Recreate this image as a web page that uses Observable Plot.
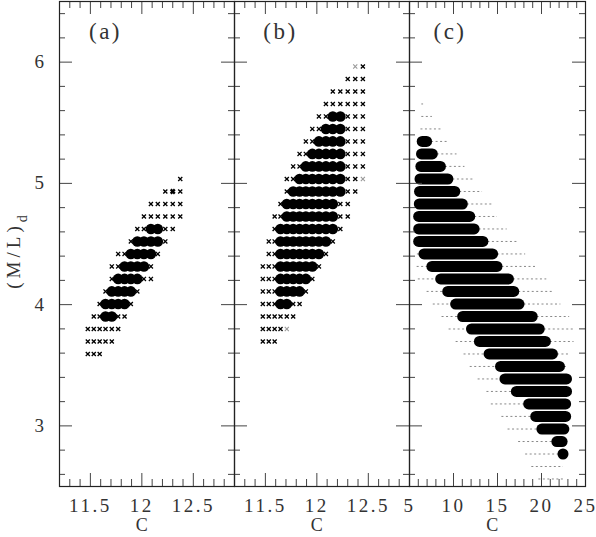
<!DOCTYPE html>
<html><head><meta charset="utf-8">
<script src="https://cdn.jsdelivr.net/npm/d3@7"></script>
<script src="https://cdn.jsdelivr.net/npm/@observablehq/plot@0.6"></script>
<style>
body{margin:0;background:#fff}
#chart{position:relative;width:596px;height:537px;background:#fff}
#chart svg{position:absolute;left:0;top:0;background:none !important;overflow:visible}
#chart svg text{font-family:"Liberation Serif",serif;fill:#333;letter-spacing:2.5px}
</style></head><body><div id="chart"></div>
<script>
// grid columns of C shared by panels (a) and (b)
const colsAB = [11.475, 11.533, 11.590, 11.647, 11.708, 11.770, 11.832, 11.893, 11.956, 12.020, 12.088, 12.155, 12.228, 12.300, 12.373, 12.447];
// rows: [(M/L)_d, marker per column]  x = cross, X = heavy cross, y = light cross, o = filled disc, . = none
const rowsA = [
  [3.593, "xxx"],
  [3.696, "xxxxx"],
  [3.799, "xxxxxx"],
  [3.902, ".xxooxx"],
  [4.005, "..xoooox"],
  [4.109, "...xoooox"],
  [4.212, "....xooooxx"],
  [4.315, "....xxoooox"],
  [4.418, ".....xxoooox"],
  [4.521, ".......xoooox"],
  [4.624, "........xxooxx"],
  [4.727, ".........xxxxxx"],
  [4.830, "..........xxxxx"],
  [4.933, "............xXx"],
  [5.036, "..............x"]
];
const rowsB = [
  [3.696, "xxx"],
  [3.799, "xxxxy"],
  [3.902, "xxxxxx"],
  [4.005, "xxxooxx"],
  [4.109, "xxxoooox"],
  [4.212, "xxxooooox"],
  [4.315, "xxxoooooox"],
  [4.418, ".xxooooooox"],
  [4.521, ".xxoooooooox"],
  [4.624, "..xooooooooox"],
  [4.727, "..xxooooooooxx"],
  [4.830, "...xooooooooxx"],
  [4.933, "....xooooooooxx"],
  [5.036, "....xxoooooooxxy"],
  [5.140, ".....xxooooooxxx"],
  [5.243, "......xxoooooxxx"],
  [5.346, ".......xxooooxxx"],
  [5.449, "........xxoooxxx"],
  [5.552, ".........xxooxxx"],
  [5.655, "..........xxxxxx"],
  [5.758, "...........xxxxx"],
  [5.861, ".............xxx"],
  [5.964, "..............yx"]
];
// panel (c): [(M/L)_d, faint from, solid from, solid to, faint to]
const rowsC = [
  [5.655, 6.4, null, null, 6.6],
  [5.552, 6.4, null, null, 7.6],
  [5.449, 6.3, null, null, 8.6],
  [5.346, null, 6.5, 7.0, 9.3],
  [5.243, null, 6.42, 7.65, 10.4],
  [5.140, null, 6.35, 8.57, 11.3],
  [5.036, null, 6.25, 9.42, 12.3],
  [4.933, null, 6.2, 10.2, 13.3],
  [4.830, null, 6.17, 11.06, 14.4],
  [4.727, null, 6.1, 11.9, 15.0],
  [4.624, null, 6.1, 12.4, 16.1],
  [4.521, null, 6.1, 13.4, 17.4],
  [4.418, 5.9, 6.7, 14.5, 18.2],
  [4.315, 5.87, 7.6, 15.0, 19.5],
  [4.212, 6.0, 8.6, 16.3, 20.6],
  [4.109, 7.0, 9.4, 16.9, 21.4],
  [4.005, 7.7, 10.3, 17.5, 22.2],
  [3.902, 8.7, 11.1, 19.0, 23.2],
  [3.799, 9.5, 12.1, 19.8, 23.7],
  [3.696, 10.3, 13.0, 20.5, 23.7],
  [3.593, 11.2, 14.1, 21.3, 23.1],
  [3.490, 11.9, 15.4, 22.1, 23.0],
  [3.387, 12.8, 15.9, 22.9, null],
  [3.284, 13.8, 17.2, 22.9, null],
  [3.181, 14.3, 18.6, 22.8, null],
  [3.078, 15.5, 19.4, 22.8, null],
  [2.974, 16.2, 20.1, 22.6, null],
  [2.871, 17.4, 21.8, 22.4, null],
  [2.768, 18.2, 22.5, 22.5, null],
  [2.665, 18.9, null, null, 22.5],
  [2.562, 19.7, null, null, 22.5]
];
const yMajor = [3, 4, 5, 6];
const yMinor = [2.6, 2.8, 3.2, 3.4, 3.6, 3.8, 4.2, 4.4, 4.6, 4.8, 5.2, 5.4, 5.6, 5.8, 6.2, 6.4];
const xMajorAB = [11.5, 12, 12.5];
const xMinorAB = [11.3, 11.4, 11.6, 11.7, 11.8, 11.9, 12.1, 12.2, 12.3, 12.4, 12.6, 12.7, 12.8];
const xMajorC = [5, 10, 15, 20, 25];
const xMinorC = [6, 7, 8, 9, 11, 12, 13, 14, 16, 17, 18, 19, 21, 22, 23, 24];
const panelLabels = ["(a)", "(b)", "(c)"];
const yTitle = "(M/L)", yTitleSub = "d", xTitle = "C";

const W = 596, H = 537, mT = 1, mB = 51;
const edges = [59, 234, 409, 585];
const ih = H - mT - mB;
const FONT = "Liberation Serif";

function expand(rows) {
  const pts = [];
  for (const [y, p] of rows) for (let i = 0; i < p.length; i++) if (p[i] !== ".") pts.push({x: colsAB[i], y, t: p[i]});
  return pts;
}

function panel(idx, xDomain, xMaj, xMin, marks, labelDx) {
  const iw = edges[idx + 1] - edges[idx];
  const tc = "#444";
  const mid = (xDomain[0] + xDomain[1]) / 2;
  const txt = {fontFamily: FONT, fill: "#333", textAnchor: "middle", lineAnchor: "middle"};
  const all = [
    ...marks,
    Plot.tickY(yMajor, {y: d => d, insetRight: iw - 13, stroke: tc}),
    Plot.tickY(yMajor, {y: d => d, insetLeft: iw - 13, stroke: tc}),
    Plot.tickY(yMinor, {y: d => d, insetRight: iw - 6, stroke: tc}),
    Plot.tickY(yMinor, {y: d => d, insetLeft: iw - 6, stroke: tc}),
    Plot.tickX(xMaj, {x: d => d, insetTop: ih - 13, stroke: tc}),
    Plot.tickX(xMaj, {x: d => d, insetBottom: ih - 13, stroke: tc}),
    Plot.tickX(xMin, {x: d => d, insetTop: ih - 7, stroke: tc}),
    Plot.tickX(xMin, {x: d => d, insetBottom: ih - 7, stroke: tc}),
    Plot.frame({stroke: "#222", strokeWidth: 1.2}),
    Plot.text(xMaj, {x: d => d, frameAnchor: "bottom", dy: 19, text: d => String(d), fontSize: 19, ...txt}),
    Plot.text([xTitle], {x: () => mid, frameAnchor: "bottom", dx: -4, dy: 39, text: d => d, fontSize: 18, ...txt}),
    Plot.text([panelLabels[idx]], {frameAnchor: "top-left", dx: labelDx, dy: 30, text: d => d, fontSize: 23, ...txt})
  ];
  if (idx === 0) all.push(Plot.text(yMajor, {y: d => d, frameAnchor: "left", dx: -19, text: d => String(d), fontSize: 19, ...txt}));
  return Plot.plot({
    width: W, height: H,
    marginLeft: edges[idx], marginRight: W - edges[idx + 1], marginTop: mT, marginBottom: mB,
    x: {domain: xDomain, axis: null},
    y: {domain: [2.5, 6.5], axis: null},
    style: {background: "none", overflow: "visible"},
    marks: all
  });
}

function abMarks(rows) {
  const pts = expand(rows);
  return [
    Plot.dot(pts.filter(d => d.t === "x"), {x: "x", y: "y", symbol: "times", r: 2, stroke: "#000", strokeWidth: 1.3}),
    Plot.dot(pts.filter(d => d.t === "X"), {x: "x", y: "y", symbol: "times", r: 2, stroke: "#000", strokeWidth: 2.4}),
    Plot.dot(pts.filter(d => d.t === "y"), {x: "x", y: "y", symbol: "times", r: 2, stroke: "#999", strokeWidth: 1.1}),
    Plot.dot(pts.filter(d => d.t === "o"), {x: "x", y: "y", r: 5.3, fill: "#000", stroke: "none"})
  ];
}

const faint = [], solid = [];
for (const [y, a, b0, b1, c] of rowsC) {
  if (b0 == null) { faint.push({y, x1: a, x2: c}); continue; }
  solid.push({y, x1: b0, x2: b1});
  if (a != null) faint.push({y, x1: a, x2: b0});
  if (c != null) faint.push({y, x1: b1, x2: c});
}
const cMarks = [
  Plot.ruleY(faint, {y: "y", x1: "x1", x2: "x2", stroke: "#888", strokeWidth: 1, strokeDasharray: "2,2.5"}),
  Plot.ruleY(solid, {y: "y", x1: "x1", x2: "x2", stroke: "#000", strokeWidth: 11, strokeLinecap: "round"})
];

const chart = document.getElementById("chart");
const pA = panel(0, [11.2, 12.9], xMajorAB, xMinorAB, abMarks(rowsA), 46);
const pB = panel(1, [11.2, 12.9], xMajorAB, xMinorAB, abMarks(rowsB), 46);
const pC = panel(2, [5, 25], xMajorC, xMinorC, cMarks, 40.5);
chart.append(pA, pB, pC);

// y-axis title with subscript
const t = d3.select(pA).append("text")
  .attr("transform", "translate(19.5,252) rotate(-90)")
  .attr("text-anchor", "middle")
  .attr("font-family", FONT)
  .attr("font-size", 19)
  .style("letter-spacing", "4px");
t.append("tspan").text(yTitle);
t.append("tspan").attr("font-size", 14).attr("dy", 7).style("letter-spacing", "0px").text(yTitleSub);
</script></body></html>
